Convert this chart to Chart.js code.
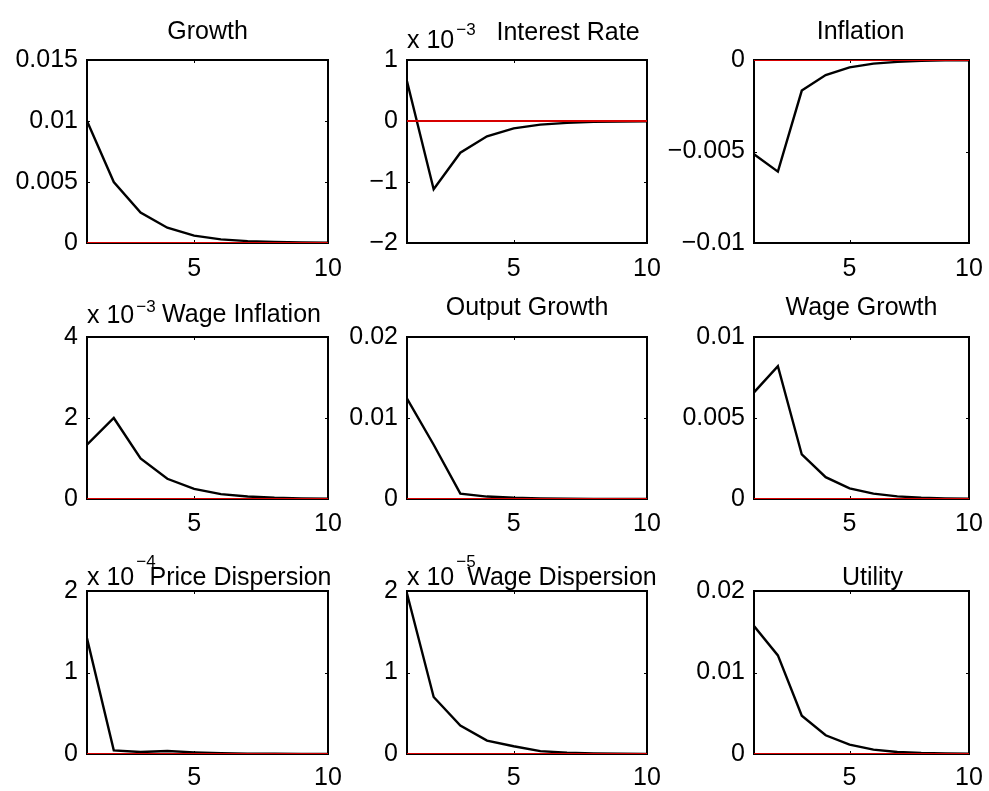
<!DOCTYPE html>
<html>
<head>
<meta charset="utf-8">
<script src="https://cdn.jsdelivr.net/npm/chart.js@4.4.1/dist/chart.umd.min.js"></script>
<style>
  html, body { margin: 0; padding: 0; background: #fff; overflow: hidden; width: 989px; height: 791px; }
  #fig { position: relative; width: 989px; height: 791px; }
  #fig canvas { position: absolute; }
</style>
</head>
<body>
<div id="fig"></div>
<script>
// Impulse responses over ten periods
const steps = [1, 2, 3, 4, 5, 6, 7, 8, 9, 10];
const xTicks = [5, 10];
const zeroLine = [0, 0, 0, 0, 0, 0, 0, 0, 0, 0];

const titles = ['Growth', 'Interest Rate', 'Inflation',
                'Wage Inflation', 'Output Growth', 'Wage Growth',
                'Price Dispersion', 'Wage Dispersion', 'Utility'];

const growth          = [0.0100, 0.0050, 0.0025, 0.00125, 0.0006, 0.0003, 0.00015, 0.00008, 0.00004, 0.00002];
const interestRate    = [0.00065, -0.00112, -0.00052, -0.00025, -0.00012, -0.00006, -0.00003, -0.000015, -0.000008, -0.000004];
const inflation       = [-0.00515, -0.0061, -0.00167, -0.00082, -0.0004, -0.0002, -0.0001, -0.00005, -0.00002, -0.00001];
const wageInflation   = [0.00134, 0.0020, 0.0010, 0.0005, 0.00025, 0.00012, 0.00006, 0.00003, 0.000015, 0.000008];
const outputGrowth    = [0.0124, 0.0067, 0.00066, 0.0003, 0.00015, 0.00008, 0.00004, 0.00002, 0.00001, 0.0];
const wageGrowth      = [0.00658, 0.0082, 0.00275, 0.00135, 0.00066, 0.00033, 0.00016, 0.00008, 0.00004, 0.00002];
const priceDispersion = [0.000142, 0.0000045, 0.0000025, 0.0000037, 0.000002, 0.000001, 0.0000005, 0.0000003, 0.0000002, 0.0000001];
const wageDispersion  = [0.0000197, 0.0000070, 0.0000035, 0.00000165, 0.00000095, 0.00000035, 0.00000015, 0.00000008, 0.00000004, 0.00000002];
const utility         = [0.0157, 0.0121, 0.0047, 0.0023, 0.00114, 0.00053, 0.00025, 0.00012, 0.00006, 0.00003];

const growthTicks    = [0, 0.005, 0.01, 0.015];
const interestTicks  = [-0.002, -0.001, 0, 0.001];
const inflationTicks = [-0.01, -0.005, 0];
const wageInfTicks   = [0, 0.002, 0.004];
const outputTicks    = [0, 0.01, 0.02];
const wageGrowTicks  = [0, 0.005, 0.01];
const priceDispTicks = [0, 0.0001, 0.0002];
const wageDispTicks  = [0, 0.00001, 0.00002];
const utilityTicks   = [0, 0.01, 0.02];

// axis multipliers shown as "x 10^n" above the axes (0 = none)
const exponents = [0, -3, 0, -3, 0, 0, -4, -5, 0];

const FONT_FAMILY = '"Liberation Sans", Arial, Helvetica, sans-serif';
const FONT_SIZE = 25;

// subplot boxes [left, top, right, bottom] and title placement
const panels = [
  { values: growth,          ticks: growthTicks,    box: [87, 60, 328, 243],  tdx: 0,   tdy: -21, edy: -12, sdy: -25, xpad: 11 },
  { values: interestRate,    ticks: interestTicks,  box: [407, 60, 647, 243], tdx: 41,  tdy: -20, edy: -12, sdy: -25, xpad: 11 },
  { values: inflation,       ticks: inflationTicks, box: [754, 60, 969, 243], tdx: -1,  tdy: -21, edy: -12, sdy: -25, xpad: 11 },
  { values: wageInflation,   ticks: wageInfTicks,   box: [87, 337, 328, 499], tdx: 34,  tdy: -15, edy: -14, sdy: -25, xpad: 10 },
  { values: outputGrowth,    ticks: outputTicks,    box: [407, 337, 647, 499], tdx: 0,  tdy: -22, edy: -14, sdy: -25, xpad: 10 },
  { values: wageGrowth,      ticks: wageGrowTicks,  box: [754, 337, 969, 499], tdx: 0,  tdy: -22, edy: -14, sdy: -25, xpad: 10 },
  { values: priceDispersion, ticks: priceDispTicks, box: [87, 591, 328, 754], tdx: 33,  tdy: -6,  edy: -6,  sdy: -24, xpad: 9 },
  { values: wageDispersion,  ticks: wageDispTicks,  box: [407, 591, 647, 754], tdx: 35, tdy: -6,  edy: -6,  sdy: -24, xpad: 9 },
  { values: utility,         ticks: utilityTicks,   box: [754, 591, 969, 754], tdx: 11, tdy: -6,  edy: -6,  sdy: -24, xpad: 9 }
];

const ML = 100, MT = 70, MR = 34, MB = 48;

function fmt(v, exp) {
  const s = String(Number((v / Math.pow(10, exp)).toPrecision(6)));
  return s.replace('-', '\u2212');
}

// frame, inward ticks, title and exponent label
const panelDecor = {
  id: 'panelDecor',
  beforeDatasetsDraw(chart, args, opts) {
    const { ctx, chartArea: a } = chart;
    ctx.save();
    ctx.strokeStyle = '#000';
    ctx.lineWidth = 2;
    ctx.strokeRect(a.left, a.top, a.right - a.left, a.bottom - a.top);
    ctx.lineWidth = 1;
    const ys = chart.scales.y, xs = chart.scales.x;
    const tl = 3;
    ctx.beginPath();
    ys.ticks.forEach(t => {
      const p = Math.round(ys.getPixelForValue(t.value)) + 0.5;
      ctx.moveTo(a.left, p); ctx.lineTo(a.left + tl, p);
      ctx.moveTo(a.right, p); ctx.lineTo(a.right - tl, p);
    });
    xs.ticks.forEach(t => {
      const p = Math.round(xs.getPixelForValue(t.value)) + 0.5;
      ctx.moveTo(p, a.bottom); ctx.lineTo(p, a.bottom - tl);
      ctx.moveTo(p, a.top); ctx.lineTo(p, a.top + tl);
    });
    ctx.stroke();
    ctx.restore();
  },
  afterDraw(chart, args, opts) {
    const { ctx, chartArea: a } = chart;
    ctx.save();
    ctx.fillStyle = '#000';
    ctx.textBaseline = 'alphabetic';
    ctx.font = FONT_SIZE + 'px ' + FONT_FAMILY;
    ctx.textAlign = 'center';
    ctx.fillText(opts.title, (a.left + a.right) / 2 + opts.tdx, a.top + opts.tdy);
    if (opts.exp) {
      ctx.textAlign = 'left';
      const base = 'x 10';
      ctx.fillText(base, a.left, a.top + opts.edy);
      const w = ctx.measureText(base).width;
      ctx.font = '17px ' + FONT_FAMILY;
      ctx.fillText('\u2212' + Math.abs(opts.exp), a.left + w + 2, a.top + opts.sdy);
    }
    ctx.restore();
  }
};

const fig = document.getElementById('fig');

panels.forEach((p, i) => {
  const [l, t, r, b] = p.box;
  const cv = document.createElement('canvas');
  cv.width = (r - l) + ML + MR;
  cv.height = (b - t) + MT + MB;
  cv.style.left = (l - ML) + 'px';
  cv.style.top = (t - MT) + 'px';
  cv.style.width = cv.width + 'px';
  cv.style.height = cv.height + 'px';
  fig.appendChild(cv);

  const exp = exponents[i];
  const yTicks = p.ticks;
  const tickFont = { family: FONT_FAMILY, size: FONT_SIZE };

  new Chart(cv, {
    type: 'line',
    data: {
      datasets: [
        {
          data: steps.map((s, k) => ({ x: s, y: zeroLine[k] })),
          borderColor: 'rgb(215,0,0)',
          borderWidth: 1.8,
          pointRadius: 0,
          tension: 0
        },
        {
          data: steps.map((s, k) => ({ x: s, y: p.values[k] })),
          borderColor: '#000',
          borderWidth: 2.4,
          pointRadius: 0,
          tension: 0
        }
      ]
    },
    options: {
      responsive: false,
      devicePixelRatio: 1,
      animation: false,
      events: [],
      layout: { padding: { left: 0, top: MT, right: MR, bottom: 0 } },
      plugins: {
        legend: { display: false },
        tooltip: { enabled: false },
        title: { display: false },
        panelDecor: { title: titles[i], exp: exp, tdx: p.tdx, tdy: p.tdy, edy: p.edy, sdy: p.sdy }
      },
      scales: {
        x: {
          type: 'linear',
          min: steps[0],
          max: steps[steps.length - 1],
          afterFit: s => { s.height = MB; },
          afterBuildTicks: s => { s.ticks = xTicks.map(v => ({ value: v })); },
          grid: { display: false, drawTicks: false },
          border: { display: false },
          ticks: { padding: p.xpad, color: '#000', font: tickFont, maxRotation: 0, autoSkip: false, callback: v => String(v) }
        },
        y: {
          type: 'linear',
          min: yTicks[0],
          max: yTicks[yTicks.length - 1],
          afterFit: s => { s.width = ML; },
          afterBuildTicks: s => { s.ticks = yTicks.map(v => ({ value: v })); },
          grid: { display: false, drawTicks: false },
          border: { display: false },
          ticks: { padding: 9, color: '#000', font: tickFont, autoSkip: false, callback: v => fmt(v, exp) }
        }
      }
    },
    plugins: [panelDecor]
  });
});
</script>
</body>
</html>
